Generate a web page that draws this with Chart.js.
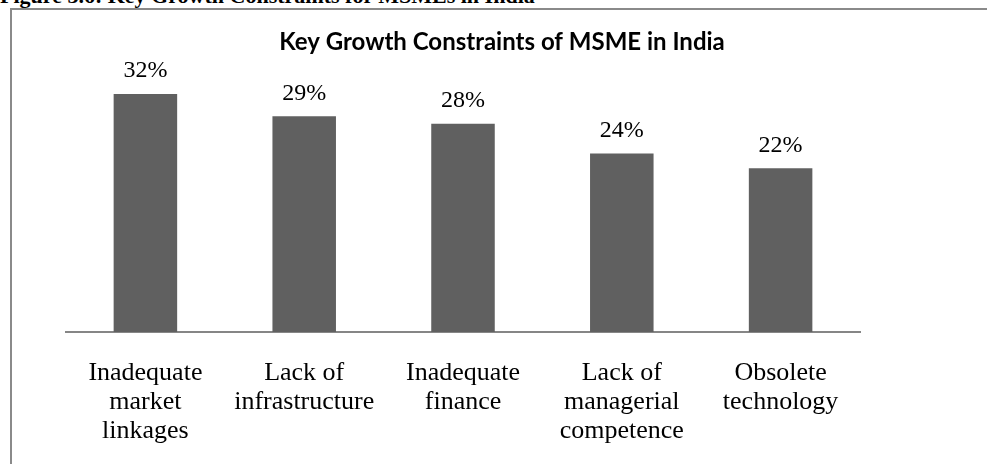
<!DOCTYPE html>
<html>
<head>
<meta charset="utf-8">
<script src="https://cdn.jsdelivr.net/npm/chart.js@4/dist/chart.umd.min.js"></script>
<style>
  html, body { margin: 0; padding: 0; background: #fff; overflow: hidden; }
  #wrap { position: relative; width: 987px; height: 464px; }
  #caption {
    position: absolute; left: 0; top: -15px; white-space: nowrap;
    font: bold 22px "Liberation Serif", "Times New Roman", serif; line-height: 22px; color: #000;
  }
  #frameTop { position: absolute; left: 10px; top: 8px; width: 977px; height: 2px; background: #8a8a8a; }
  #frameLeft { position: absolute; left: 10px; top: 8px; width: 2px; height: 456px; background: #8a8a8a; }
  #chart { position: absolute; left: 0; top: 0; }
</style>
</head>
<body>
<div id="wrap">
  <div id="caption">Figure 3.6: Key Growth Constraints for MSMEs in India</div>
  <div id="frameTop"></div>
  <div id="frameLeft"></div>
  <canvas id="chart" width="987" height="464"></canvas>
</div>
<script>
const categories = [
  ['Inadequate', 'market', 'linkages'],
  ['Lack of', 'infrastructure'],
  ['Inadequate', 'finance'],
  ['Lack of', 'managerial', 'competence'],
  ['Obsolete', 'technology']
];
const shares = [32, 29, 28, 24, 22];

const serif = '"Liberation Serif", "Times New Roman", serif';

// percent labels above each bar
const valueLabels = {
  id: 'valueLabels',
  afterDatasetsDraw(chart) {
    const ctx = chart.ctx;
    const meta = chart.getDatasetMeta(0);
    ctx.save();
    ctx.font = '24px ' + serif;
    ctx.fillStyle = '#000';
    ctx.textAlign = 'center';
    ctx.textBaseline = 'alphabetic';
    meta.data.forEach((bar, i) => {
      ctx.fillText(shares[i] + '%', bar.x, bar.y - 16.5);
    });
    ctx.restore();
  }
};

new Chart(document.getElementById('chart'), {
  type: 'bar',
  data: {
    labels: categories,
    datasets: [{
      data: shares,
      backgroundColor: '#606060',
      borderWidth: 0,
      barPercentage: 0.4,
      categoryPercentage: 1
    }]
  },
  options: {
    responsive: false,
    animation: false,
    devicePixelRatio: 1,
    layout: { padding: { left: 17, right: 0, top: 0, bottom: 0 } },
    plugins: {
      legend: { display: false },
      tooltip: { enabled: false },
      title: {
        display: true,
        text: 'Key Growth Constraints of MSME in India',
        color: '#000',
        font: { family: 'Lato, "Liberation Sans", sans-serif', size: 24, weight: 'bold', lineHeight: 1.2 },
        padding: { top: 28, bottom: 14.8 }
      }
    },
    scales: {
      x: {
        grid: { display: false, drawTicks: false },
        border: { display: true, color: '#868686', width: 2 },
        ticks: {
          color: '#000',
          padding: 26,
          maxRotation: 0,
          autoSkip: false,
          font: { family: serif, size: 26, lineHeight: 1.13 }
        },
        afterFit(scale) { scale.height = 132; }
      },
      y: {
        min: 0,
        max: 35,
        grid: { display: false },
        border: { display: false },
        ticks: { display: false },
        afterFit(scale) { scale.width = 49; }
      },
      y2: {
        type: 'linear',
        position: 'right',
        grid: { display: false },
        border: { display: false },
        ticks: { display: false },
        afterFit(scale) { scale.width = 127; }
      }
    }
  },
  plugins: [valueLabels]
});
</script>
</body>
</html>
